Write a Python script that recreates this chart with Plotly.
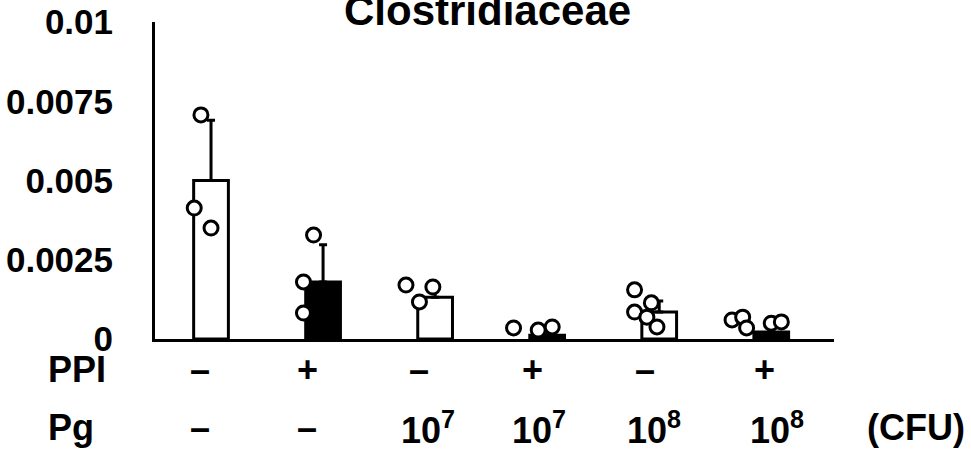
import plotly.graph_objects as go

# ---- data ----
groups = [0, 1, 2, 3, 4, 5]
ppi_labels = ["–", "+", "–", "+", "–", "+"]
pg_labels = ["–", "–", "10<sup>7</sup>", "10<sup>7</sup>", "10<sup>8</sup>", "10<sup>8</sup>"]
bar_means = [0.0050, 0.0018, 0.00132, 0.00012, 0.00085, 0.00022]
bar_err = [0.0019, 0.00117, 0.00035, 0.0002, 0.00035, 0.0003]

point_group = [0, 0, 0, 1, 1, 1, 2, 2, 2, 3, 3, 3, 4, 4, 4, 4, 4, 5, 5, 5, 5, 5]
point_jitter = [-0.09, -0.15, 0.0, -0.085, -0.175, -0.175, -0.26, -0.02, -0.14,
                -0.30, -0.08, 0.045, -0.22, -0.22, -0.07, -0.11, -0.02,
                -0.35, -0.255, -0.22, 0.0, 0.09]
point_values = [0.00707, 0.00413, 0.00350, 0.00328, 0.00180, 0.00082,
                0.00170, 0.00164, 0.00117, 0.00035, 0.00028, 0.00038,
                0.00155, 0.00085, 0.00114, 0.00069, 0.00038,
                0.00060, 0.00069, 0.00035, 0.00050, 0.00054]

y_ticks = [0, 0.0025, 0.005, 0.0075, 0.01]
y_tick_text = ["0", "0.0025", "0.005", "0.0075", "0.01"]

title_text = "Clostridiaceae"

# ---- figure ----
FONT = "Liberation Sans, Arial, sans-serif"
fills = ["black" if p == "+" else "white" for p in ppi_labels]

fig = go.Figure()
fig.add_trace(go.Bar(
    x=groups, y=bar_means, width=0.31,
    marker=dict(color=fills, line=dict(color="black", width=3)),
    error_y=dict(type="data", array=bar_err, arrayminus=[0] * len(bar_err),
                 symmetric=False, color="black", thickness=3, width=4),
    showlegend=False, hoverinfo="skip",
))
fig.add_trace(go.Scatter(
    x=[groups[g] + j for g, j in zip(point_group, point_jitter)],
    y=point_values, mode="markers", cliponaxis=False,
    marker=dict(symbol="circle", size=14, color="white",
                line=dict(color="black", width=3)),
    showlegend=False, hoverinfo="skip",
))

label_font = dict(family=FONT, size=36, color="black", weight="bold")
annotations = []
ppi_dx = [-0.10, -0.14, -0.14, -0.13, -0.13, -0.06]
pg_dx = [-0.10, -0.14, -0.06, -0.07, -0.05, 0.05]
for g, lab, dx in zip(groups, ppi_labels, ppi_dx):
    annotations.append(dict(x=g + dx, xref="x", y=-0.097, yref="paper", text=lab,
                            showarrow=False, xanchor="center", yanchor="middle",
                            font=label_font))
for g, lab, dx in zip(groups, pg_labels, pg_dx):
    annotations.append(dict(x=g + dx, xref="x", y=-0.28, yref="paper", text=lab,
                            showarrow=False, xanchor="center", yanchor="middle",
                            font=label_font))
annotations += [
    dict(x=-0.1605, xref="paper", y=-0.097, yref="paper", text="PPI", showarrow=False,
         xanchor="left", yanchor="middle", font=label_font),
    dict(x=-0.1605, xref="paper", y=-0.28, yref="paper", text="Pg", showarrow=False,
         xanchor="left", yanchor="middle", font=label_font),
    dict(x=1.121, xref="paper", y=-0.28, yref="paper", text="(CFU)", showarrow=False,
         xanchor="center", yanchor="middle", font=label_font),
    dict(x=0.490, xref="paper", y=1.036, yref="paper", text=title_text, showarrow=False,
         xanchor="center", yanchor="middle",
         font=dict(family=FONT, size=42, color="black", weight="bold")),
]

fig.update_layout(
    width=971, height=455,
    margin=dict(l=155, r=137, t=22, b=116),
    paper_bgcolor="white", plot_bgcolor="white",
    annotations=annotations,
    xaxis=dict(range=[-0.5, 5.56], showgrid=False, zeroline=False,
               showline=True, linecolor="black", linewidth=3,
               showticklabels=False, ticks="", automargin=False),
    yaxis=dict(range=[0, 0.01], showgrid=False, zeroline=False,
               showline=True, linecolor="black", linewidth=3,
               tickvals=y_ticks, ticktext=y_tick_text, ticks="",
               ticklabelstandoff=32, automargin=False,
               tickfont=dict(family=FONT, size=35, color="black", weight="bold")),
)

fig.write_html("out.html", config={"displayModeBar": False},
               post_script="document.body.style.margin='0';document.body.style.overflow='hidden';")
